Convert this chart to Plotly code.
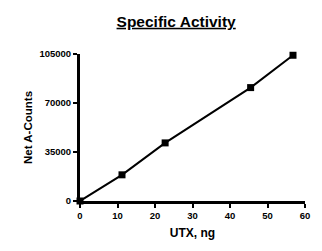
import plotly.graph_objects as go

utx_ng = [0, 11.2, 22.7, 45.5, 56.8]
net_counts = [0, 18700, 41500, 81000, 104100]
x_ticks = [0, 10, 20, 30, 40, 50, 60]
y_ticks = [0, 35000, 70000, 105000]

fig = go.Figure()
fig.add_trace(go.Scatter(
    x=utx_ng, y=net_counts, mode="lines+markers",
    line=dict(color="black", width=2),
    marker=dict(symbol="square", size=7, color="black"),
    cliponaxis=False, showlegend=False,
))

font = "Arial, Liberation Sans, sans-serif"
fig.update_layout(
    width=322, height=251,
    margin=dict(l=80, r=16, t=54, b=47),
    paper_bgcolor="white", plot_bgcolor="white",
    title=dict(text="<b><u>Specific Activity</u></b>", x=0.547, xanchor="center",
               y=0.915, yanchor="middle", font=dict(family=font, size=15.5, color="black")),
    font=dict(family=font, color="black"),
)
fig.update_xaxes(
    range=[0, 60], tickvals=x_ticks, ticktext=[f"<b>{v}</b>" for v in x_ticks],
    showgrid=False, zeroline=False, showline=True, linecolor="black", linewidth=3,
    ticks="outside", ticklen=4, tickwidth=2, tickcolor="black",
    tickfont=dict(size=9.5, family=font),
    title=dict(text="<b>UTX, ng</b>", font=dict(size=12, family=font), standoff=9),
)
fig.update_yaxes(
    range=[0, 105000], tickvals=y_ticks, ticktext=[f"<b>{v}</b>" for v in y_ticks],
    showgrid=False, zeroline=False, showline=True, linecolor="black", linewidth=3,
    ticks="outside", ticklen=4, tickwidth=2, tickcolor="black",
    tickfont=dict(size=9.5, family=font),
    title=dict(text="<b>Net A-Counts</b>", font=dict(size=11.5, family=font), standoff=5),
)
fig.write_html("out.html")
